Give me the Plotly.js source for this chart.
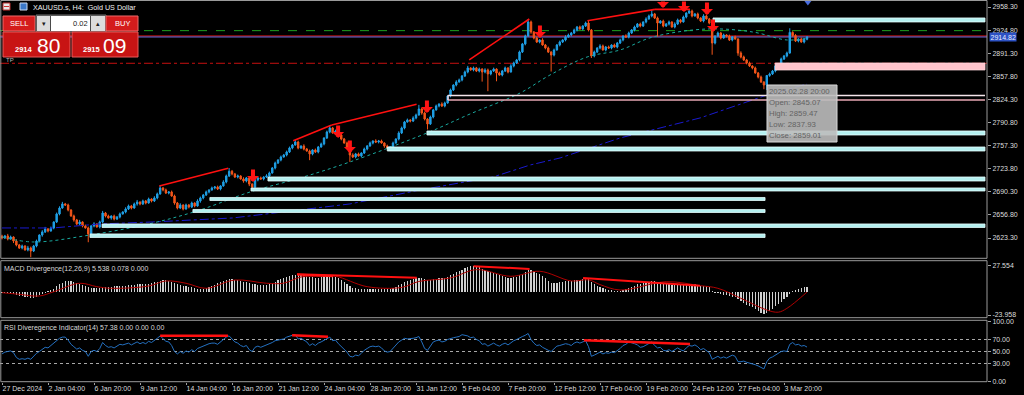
<!DOCTYPE html>
<html><head><meta charset="utf-8">
<script src="https://cdn.plot.ly/plotly-3.0.1.min.js"></script>
<style>html,body{margin:0;padding:0;background:#000;}#c{width:1024px;height:395px;}</style>
</head><body><div id="c"></div>
<script>
// ---------- DATA ----------
const firstOpen = 2626.0;
const closes = [
2623.4,2626.3,2621.9,2624.8,2619.0,2613.2,2608.9,2611.8,2606.0,2608.9,2604.5,2611.8,2619.0,2627.7,2632.1,2636.4,2633.5,2637.9,2646.6,2658.2,
2666.8,2672.7,2671.2,2664.0,2655.2,2649.5,2643.7,2646.6,2640.8,2637.9,2629.2,2640.8,2643.7,2639.3,2646.6,2659.6,2655.2,2652.4,2655.2,2650.9,
2653.8,2658.2,2661.1,2665.4,2669.8,2666.8,2672.7,2675.5,2672.7,2677.0,2674.1,2679.9,2677.0,2681.4,2687.2,2695.9,2693.0,2688.6,2690.1,2684.2,
2674.1,2666.8,2671.2,2665.4,2671.2,2668.3,2674.1,2669.8,2677.0,2681.4,2685.7,2690.1,2693.0,2695.9,2697.3,2694.4,2698.8,2704.6,2713.3,2720.0,
2716.2,2711.8,2713.3,2708.9,2706.0,2710.4,2701.6,2697.3,2707.5,2710.4,2708.9,2711.8,2713.3,2717.6,2724.8,2732.1,2736.5,2740.8,2743.7,2748.1,
2753.9,2758.2,2762.5,2753.9,2756.7,2752.4,2749.5,2745.2,2751.0,2748.1,2755.3,2759.7,2768.4,2777.1,2782.9,2775.6,2778.5,2772.7,2766.9,2761.1,
2755.3,2743.7,2740.8,2745.2,2742.3,2746.6,2752.4,2756.7,2761.1,2764.0,2762.5,2764.0,2761.1,2756.7,2753.9,2755.3,2761.1,2766.9,2775.6,2782.9,
2791.6,2794.5,2793.0,2797.4,2801.7,2810.4,2804.6,2795.9,2788.7,2798.8,2809.0,2814.8,2817.6,2814.8,2819.1,2829.3,2838.0,2845.2,2849.6,2852.5,
2858.2,2864.1,2869.9,2867.0,2869.9,2865.5,2868.4,2864.1,2867.0,2861.2,2865.5,2868.4,2862.6,2859.7,2865.5,2869.9,2864.1,2872.8,2877.1,2881.5,
2893.1,2904.7,2916.2,2936.6,2922.0,2913.3,2907.6,2910.5,2903.2,2898.9,2893.1,2888.7,2896.0,2903.2,2907.6,2910.5,2914.8,2917.7,2920.6,2924.9,
2929.3,2926.4,2930.8,2935.1,2924.9,2887.3,2893.1,2898.9,2901.8,2896.0,2900.3,2898.9,2903.2,2900.3,2906.1,2910.5,2916.2,2914.8,2920.6,2924.9,
2929.3,2933.6,2930.8,2936.6,2940.9,2945.3,2948.2,2942.4,2935.1,2938.0,2930.8,2933.6,2936.6,2929.3,2933.6,2939.5,2936.6,2943.8,2949.6,2952.5,
2945.3,2948.2,2942.4,2938.0,2945.3,2940.9,2935.1,2906.1,2916.2,2920.6,2913.3,2917.7,2916.2,2910.5,2914.8,2911.9,2891.6,2885.8,2881.5,2877.1,
2872.8,2869.9,2862.6,2856.8,2849.6,2845.1,2859.0,2861.2,2865.5,2872.8,2875.7,2882.9,2887.3,2891.6,2921.5,2917.0,2909.0,2912.0,2907.5,2911.5,
2914.8];
const hiWick = [
2,1.5,3,2,1,2.5,1.5,2,1,3,2,1.5,2,1,2.5,3,1.5,2,1,2,
2.5,3,1.5,2,1,2,1.5,3,1,2,2,1.5,2.5,1,2,3,1.5,2,1,2,
1.5,2,1,2.5,2,1.5,2,3,1,2,1.5,2,1,2.5,2,3,1.5,2,1,2,
2,1.5,2.5,1,2,1.5,2,1,2.5,2,1.5,2,1,2,1.5,2,1,2.5,2,4.8,
2,1.5,2,1,2.5,1.5,2,1,2,1.5,2,1,2.5,2,1.5,2,1,2,1.5,2,
2,1.5,3,2,1,2.5,1.5,2,1,2,1.5,2,1,2,4,1.5,2,1,2,1.5,
2,1,2.5,1.5,2,1,2,1.5,2,1,2.5,1.5,2,1,2,1.5,2,1,2.5,2,
1.5,2,1,2.5,2,6,1.5,2,1,2,1.5,2,1,2.5,2,1.5,2,1,2.5,2,
1.5,2,3,1,2,1.5,2,1,2.5,2,1.5,2,1,2,1.5,2,1,2.5,2,1.5,
2,1.5,2,4.3,2,1.5,2,1,2.5,1.5,2,1,2,1.5,2,1,2.5,2,1.5,2,
1.5,2,1,2,3,1.5,2,1,2.5,2,1.5,2,1,2,1.5,2,1,2.5,2,1.5,
2,1.5,2,1,2.5,2,5.8,1.5,2,1,2,1.5,2,1,2.5,2,1.5,2,1,2.4,
2,1.5,2,1,2.5,2,1.5,4,1,2,1.5,2,1,2,1.5,2,1,2.5,2,1.5,
2,1,2,1.5,2,1,0.5,2,1.5,2,1,2,1.5,2,6,1.5,2,1,2,1.5,
1.5];
const loWick = [
2,1.5,2,1,3,2,1.5,2,1,2,9,1.5,2,1,2.5,1.5,2,1,2,1.5,
2,1,1.5,2,1,2.5,2,1.5,2,1,12,1.5,2,1,2,1.5,2,1,2.5,2,
1.5,2,1,2,1.5,2,1,2.5,2,1.5,2,1,2,1.5,2,1,2,1.5,2,1,
2.5,2,1.5,2,1,2,1.5,2,1,2.5,2,1.5,2,1,2,1.5,2,1,2,1.5,
2,1.5,2,1,2.5,2,3,4,1.5,2,1,2,1.5,2,1,2,1.5,2,1,2,
1.5,2,1,2,1.5,2,1,9,2,1.5,2,1,2,1.5,2,1,2,1.5,2,1,
2,10,1.5,2,1,2,1.5,2,1,2,1.5,2,1,2.5,2,1.5,2,1,2,1.5,
2,1,2,1.5,2,1,2.5,2,8,1.5,2,1,2,1.5,2,1,2,1.5,2,1,
2,1.5,2,1,2,1.5,2,14,2,25,2,1.5,12,1,2,1.5,2,1,2,1.5,
2,1.5,2,1,2.5,2,1.5,2,1,2,1.5,24,2,1,2,1.5,2,1,2,1.5,
2,1,2,1.5,2,3,2,1.5,2,1,2,1.5,2,1,2,1.5,2,1,2,1.5,
2,1,2,1.5,2,1,2,1.5,20,1,2,1.5,2,1,2,1.5,2,1,2,1.5,
2,1,2,1.5,2,1,2,17,2,1.5,2,1,2,1.5,2,1,4,2,1.5,2,
1.5,2,1,2,1.5,6,7.1,2,1.5,2,1,2,1.5,2,1,2,1.5,2,1,2,
1.5];
const macdHist = [
-0.5,-0.8,-0.6,-1.0,-1.8,-2.8,-3.6,-4.2,-5.0,-5.4,-5.8,-5.6,-4.6,-3.2,-1.8,-0.4,0.8,2.0,3.8,6.0,
8.2,10.0,11.5,11.8,11.4,10.8,10.0,9.0,8.0,6.8,5.2,4.6,4.4,4.2,4.5,5.4,5.6,5.8,5.9,6.0,
6.1,6.3,6.6,7.0,7.4,7.6,7.8,8.1,8.3,8.5,8.6,9.0,9.5,10.2,11.0,12.0,12.8,12.6,12.0,11.0,
9.6,8.4,7.8,7.0,6.4,5.6,5.0,4.2,3.5,3.0,3.2,4.0,5.2,6.6,8.0,9.2,10.4,11.4,12.6,13.9,
13.6,13.0,12.4,11.8,11.0,10.5,9.4,8.6,8.4,8.0,7.8,7.6,7.8,8.4,9.6,11.0,12.6,13.8,14.8,15.8,
16.8,17.6,18.6,18.4,18.0,17.6,17.0,16.0,15.6,15.2,15.4,15.8,16.6,17.4,17.8,17.2,16.4,15.0,13.2,11.2,
9.0,6.6,4.8,4.2,3.8,3.6,3.6,3.6,3.7,3.8,3.8,3.8,3.6,3.4,3.4,3.8,4.6,5.8,7.4,9.0,
10.8,12.0,13.0,13.8,14.6,15.4,15.0,13.6,12.4,12.8,13.6,14.2,14.6,14.6,15.0,16.0,17.6,19.4,21.0,22.4,
23.8,25.0,26.4,27.4,27.5,27.0,26.0,24.6,23.4,21.8,20.8,20.0,18.8,17.6,16.8,16.2,15.4,15.2,15.6,16.4,
17.8,19.4,21.0,23.2,23.0,22.0,20.6,19.0,16.8,14.4,11.6,9.8,9.6,10.0,10.4,11.0,11.4,11.8,12.0,12.4,
12.8,13.2,14.0,15.0,14.6,10.6,8.4,7.0,5.8,4.2,3.2,2.4,1.8,1.2,1.2,1.6,2.4,3.4,4.6,5.8,
7.0,8.2,8.8,9.6,10.4,11.0,11.6,11.4,10.8,10.4,9.6,9.0,8.6,8.0,7.6,7.6,7.2,7.4,8.0,8.6,
8.4,8.2,7.6,6.8,6.6,6.0,5.0,1.6,-0.4,-1.2,-2.2,-2.8,-3.4,-4.2,-4.6,-5.2,-7.6,-9.6,-11.4,-13.0,
-14.6,-16.0,-17.8,-19.6,-21.4,-23.2,-22.0,-19.8,-17.4,-14.8,-12.2,-9.8,-7.6,-5.4,-2.0,0.8,2.4,3.4,4.4,5.0,
5.5];
const signalIdx = [0,6,13,18,27,33,38,51,57,64,71,81,92,98,104,111,116,127,139,145,156,165,177,187,198,204,208,215,231,243,249,257,266,270,273,280];
const signalVal = [-0.5,-2.2,-4.0,0.5,9.4,5.8,4.1,6.5,11.8,9.4,4.1,12.8,9.4,9.5,16.0,16.8,16.8,5.8,5.0,11.3,15.0,23.7,16.7,22.0,11.8,13.0,8.0,2.3,11.0,6.8,4.1,-6.4,-18.7,-21.0,-17.0,0.1];
const rsiVals = [
46,49,50,51,48,40,37,38,37,39,37,42,47,50,53,57,56,60,64,69,
72,74,74,69,62,58,54,56,52,50,42,50,52,50,55,65,60,57,58,56,
59,62,61,63,64,61,64,66,63,65,63,67,65,68,72,76,72,67,66,60,
50,46,50,47,51,49,53,50,55,57,60,62,63,64,64,62,66,70,74,76,
70,66,64,60,58,60,53,50,57,59,57,59,60,62,65,68,69,70,71,74,
76,77,78,71,72,69,66,60,63,60,64,66,69,72,74,68,69,63,58,53,
49,42,41,44,43,47,52,55,58,59,58,59,56,51,49,50,56,61,66,69,
72,71,71,72,73,75,66,55,52,60,66,68,69,66,67,70,72,73,74,75,
78,77,76,73,74,70,68,62,63,59,62,64,61,59,62,64,61,65,68,70,
73,75,77,80,70,64,60,61,57,54,52,50,55,59,60,61,63,62,60,64,
66,64,66,68,58,42,44,47,49,46,48,47,49,48,51,55,60,62,66,65,
63,61,57,58,61,64,66,60,56,57,52,51,53,50,53,56,53,51,56,60,
59,61,58,53,55,52,48,37,40,42,39,41,39,42,44,42,33,33,34,32,
31,30,28,26,23,21,33,39,41,44,48,50,51,50,62,65,61,62,59,60,
57.4];
const tealMaIdx = [0,10.8,30.6,52.5,68.9,86.3,103.7,121,147.8,162.8,180.2,190.6,203.5,215,226.4,245.2,261.2,273,280.3];
const tealMaVal = [2624.8,2617.6,2627.7,2645.1,2664.0,2690.1,2710.4,2733.6,2775.6,2803.2,2833.6,2859.7,2885.8,2896.0,2914.8,2926.4,2922.0,2910.5,2913.3];
const blueMaIdx = [0,17.7,34.1,52.5,80.3,103.7,121,145.4,170.8,183.7,194.1,215,242.8,266.1,280];
const blueMaVal = [2637.9,2637.9,2643.7,2646.6,2652.4,2664.0,2672.7,2693.0,2711.8,2729.2,2739.4,2768.4,2797.4,2830.7,2846.6];
const xTickIdx = [0,16,32,48,64,80,96,112,128,144,160,176,192,208,224,240,256,272];
const xTickText = ["27 Dec 2024","2 Jan 04:00","6 Jan 20:00","9 Jan 12:00","14 Jan 04:00","16 Jan 20:00","21 Jan 12:00","24 Jan 04:00","28 Jan 20:00","31 Jan 12:00","5 Feb 04:00","7 Feb 20:00","12 Feb 12:00","17 Feb 04:00","19 Feb 20:00","24 Feb 12:00","27 Feb 04:00","3 Mar 20:00"];
const priceTicks = [2958.30,2924.80,2891.30,2857.80,2824.30,2790.80,2757.30,2723.80,2690.30,2656.80,2623.30];
const macdTicks = [27.554,-23.958];
const rsiTicks = [100,70,50,30,0];
const rsiLevels = [70,50,30];
const zoneStart = [247.3,268.9,155.1,147.8,134,92.5,86.6,72.3,66.4,34.8,30.6];
const zoneEnd   = [341.9,341.9,341.9,341.9,341.9,341.9,341.9,265.4,265.4,341.9,265.4];
const zoneTop   = [2942.4,2877.1,2830.0,2778.5,2755.3,2711.8,2695.9,2682.1,2664.7,2643.7,2629.2];
const zoneBot   = [2936.6,2867.0,2823.5,2772.7,2749.5,2706.0,2691.5,2677.7,2660.3,2638.6,2624.1];
const zoneKind  = ['cyan','pink','pinkframe','cyan','cyan','cyan','cyan','cyan','cyan','cyan','cyan'];
const trendX0 = [54.7,101.3,114.7,162.5,203.6,227.1];
const trendP0 = [2698.8,2764.4,2787.2,2881.5,2938.4,2954.9];
const trendX1 = [78.7,114.7,144.2,183.4,227.1,239.3];
const trendP1 = [2724.4,2787.2,2817.2,2940.9,2954.9,2954.9];
const arrowIdx = [87.3,116.9,121,147.8,187.1,229.9,237.2,245.2,247.3];
const arrowPrice = [2704.6,2768.4,2746.6,2804.6,2913.3,2956.8,2951.0,2946.7,2922.0];
const macdTrendX0 = [102.6,102.6,164,202.1];
const macdTrendV0 = [18.8,18.6,27.3,14.9];
const macdTrendX1 = [144.3,115.1,183.5,242.8];
const macdTrendV1 = [15.2,16.7,24.5,6.8];
const rsiTrendX0 = [55,100.9,202.4];
const rsiTrendV0 = [76.3,77,68.7];
const rsiTrendX1 = [78.6,113.4,239.3];
const rsiTrendV1 = [76.3,74.7,62.5];
const levelPrice = [2924.0,2916.3,2914.82,2876.7];
const lastPrice = 2914.82;
const tipLines = ["2025.02.28 20:00","Open: 2845.07","High: 2859.47","Low: 2837.93","Close: 2859.01"];
const bidText = ["2914","80"], askText = ["2915","09"], lotText = "0.02";

// ---------- BUILD ----------
const FONT = 'Liberation Sans, Arial, sans-serif';
const idx = closes.map((_, i) => i);
const opens = closes.map((c, i) => i === 0 ? firstOpen : closes[i - 1]);
const highs = closes.map((c, i) => Math.max(opens[i], c) + hiWick[i]);
const lows = closes.map((c, i) => Math.min(opens[i], c) - loWick[i]);

const PW = 987, PH = 382;
const px = v => v / PW;
const py = v => 1 - v / PH;

const UP = '#1fa0e6', DN = '#f4561a';
const data = [
  {type:'candlestick', x:idx, open:opens, high:highs, low:lows, close:closes,
   increasing:{line:{color:UP,width:1},fillcolor:UP}, decreasing:{line:{color:DN,width:1},fillcolor:DN},
   whiskerwidth:0, hoverinfo:'skip', xaxis:'x', yaxis:'y'},
  {type:'scatter', mode:'lines', x:blueMaIdx, y:blueMaVal, line:{color:'#1a1ad0',width:1,dash:'dashdot'}, xaxis:'x', yaxis:'y', hoverinfo:'skip'},
  {type:'scatter', mode:'lines', x:tealMaIdx, y:tealMaVal, line:{color:'#1aa89e',width:1,dash:'dot',shape:'spline'}, xaxis:'x', yaxis:'y', hoverinfo:'skip'},
  {type:'scatter', mode:'markers', x:[280.3], y:[2965.5], marker:{symbol:'triangle-down',size:7,color:'#4a6ee0'}, xaxis:'x', yaxis:'y', hoverinfo:'skip'},
  {type:'bar', x:idx, y:macdHist, width:0.42, marker:{color:'#d0d0d0',line:{width:0}}, xaxis:'x', yaxis:'y2', hoverinfo:'skip'},
  {type:'scatter', mode:'lines', x:signalIdx, y:signalVal, line:{color:'#b00000',width:1,shape:'spline'}, xaxis:'x', yaxis:'y2', hoverinfo:'skip'},
  {type:'scatter', mode:'lines', x:idx, y:rsiVals, line:{color:'#2470c0',width:1}, xaxis:'x', yaxis:'y3', hoverinfo:'skip'}
];

const shapes = [];
const annotations = [];
const levelStyle = [{color:'#1ea01e',dash:'dash'},{color:'#e01414',dash:'solid'},{color:'#7070e0',dash:'solid'},{color:'#c81010',dash:'dashdot'}];
levelPrice.forEach((p, i) => shapes.push({type:'line', xref:'paper', yref:'y', x0:0, x1:1, y0:p, y1:p, line:Object.assign({width:1}, levelStyle[i]), layer:'below'}));
rsiLevels.forEach(v => shapes.push({type:'line', xref:'paper', yref:'y3', x0:0, x1:1, y0:v, y1:v, line:{color:'#a8a8a8',width:1,dash:'3px,3px'}, layer:'below'}));
zoneStart.forEach((s, i) => {
  const k = zoneKind[i];
  if (k === 'pinkframe') {
    shapes.push({type:'line', xref:'x', yref:'y', x0:s, x1:zoneEnd[i], y0:zoneTop[i], y1:zoneTop[i], line:{color:'#f4e4ea',width:1.5}, layer:'above'});
    shapes.push({type:'line', xref:'x', yref:'y', x0:s, x1:zoneEnd[i], y0:zoneBot[i], y1:zoneBot[i], line:{color:'#e8a8b4',width:1.5}, layer:'above'});
    shapes.push({type:'line', xref:'x', yref:'y', x0:s, x1:s, y0:zoneBot[i], y1:zoneTop[i], line:{color:'#f0d0d8',width:1.5}, layer:'above'});
  } else {
    const fill = k === 'pink' ? '#ffc4cc' : '#b4f0f0';
    const edge = k === 'pink' ? '#ffd8de' : '#e6ffff';
    shapes.push({type:'rect', xref:'x', yref:'y', x0:s, x1:zoneEnd[i], y0:zoneBot[i], y1:zoneTop[i], fillcolor:fill, line:{color:edge,width:0.8}, layer:'above'});
  }
});
trendX0.forEach((x, i) => shapes.push({type:'line', xref:'x', yref:'y', x0:x, x1:trendX1[i], y0:trendP0[i], y1:trendP1[i], line:{color:'#ff1010',width:1.6}, layer:'above'}));
macdTrendX0.forEach((x, i) => shapes.push({type:'line', xref:'x', yref:'y2', x0:x, x1:macdTrendX1[i], y0:macdTrendV0[i], y1:macdTrendV1[i], line:{color:'#ff1010',width:2}, layer:'above'}));
rsiTrendX0.forEach((x, i) => shapes.push({type:'line', xref:'x', yref:'y3', x0:x, x1:rsiTrendX1[i], y0:rsiTrendV0[i], y1:rsiTrendV1[i], line:{color:'#ff1010',width:2.5}, layer:'above'}));
arrowIdx.forEach((x, i) => annotations.push({x:x, y:arrowPrice[i], xref:'x', yref:'y', text:'', showarrow:true, arrowhead:1, arrowsize:0.5, arrowwidth:4, arrowcolor:'#ff1414', ax:0, ay:-14, standoff:0}));

[[0.5,258.3],[260.7,317.7],[320.3,381.7]].forEach(([a,b]) => shapes.push({type:'rect', xref:'paper', yref:'paper', x0:px(0.8), x1:1, y0:py(b), y1:py(a), line:{color:'#9a9a9a',width:1}, fillcolor:'rgba(0,0,0,0)', layer:'above'}));

function rectPx(x0,y0,x1,y1,fill,line){ shapes.push({type:'rect',xref:'paper',yref:'paper',x0:px(x0),x1:px(x1),y0:py(y1),y1:py(y0),fillcolor:fill,line:{color:line||fill,width:line?1:0},layer:'above'}); }
function textPx(x,y,t,size,color,anchor,family){ annotations.push({xref:'paper',yref:'paper',x:px(x),y:py(y),text:t,showarrow:false,xanchor:anchor||'left',yanchor:'middle',borderpad:0,font:{size:size,color:color,family:family||FONT}}); }

rectPx(767,85,837,142,'rgba(188,188,188,0.9)','#d8d8d8');
tipLines.forEach((t, i) => textPx(768, 91 + i * 11.2, t, 7.8, '#626262'));

rectPx(3,3,10,10,'#e8e8e8','#c03030');
rectPx(4,6,9,7,'#d03030');
rectPx(20,3,27,10,'#3a78c8','#c8d8f0');
textPx(32,7.5,'XAUUSD.s, H4:  Gold US Dollar',7.2,'#f0f0f0');
rectPx(3,16,35,31,'#d41c1c','#ee6a6a');
textPx(19,23.5,'SELL',7.5,'#ffffff','center');
rectPx(36,15,106,32,'#4a4a4a','#707070');
rectPx(37,16,50,31,'#dcdcdc');
rectPx(51,16,90,31,'#ffffff');
rectPx(91,16,105,31,'#dcdcdc');
textPx(43.5,23.5,'▾',7,'#202020','center','DejaVu Sans');
textPx(98,23.5,'▴',7,'#202020','center','DejaVu Sans');
textPx(89,23.5,lotText,7.5,'#202020','right');
rectPx(106,16,138,31,'#d41c1c','#ee6a6a');
textPx(122,23.5,'BUY',7.5,'#ffffff','center');
rectPx(3,32,70,57,'#c81414','#e85a5a');
rectPx(72,32,138,57,'#c81414','#e85a5a');
textPx(14,50,'<b>'+bidText[0]+'</b>',7.5,'#ffffff','left');
textPx(36,45.5,bidText[1],21,'#ffffff','left');
textPx(82,50,'<b>'+askText[0]+'</b>',7.5,'#ffffff','left');
textPx(102,45.5,askText[1],21,'#ffffff','left');
textPx(5,59.5,'TP',6,'#b8b8b8');
textPx(3,268.5,'MACD Divergence(12,26,9) 5.538 0.078 0.000',7,'#d8d8d8');
textPx(3,327.5,'RSI Diveregence Indicator(14) 57.38 0.00 0.00 0.00',7,'#d8d8d8');
annotations.push({xref:'paper', yref:'y', x:px(988.5), y:lastPrice, text:lastPrice.toFixed(2), showarrow:false, xanchor:'left', yanchor:'middle', bgcolor:'#2d52c4', borderpad:0.5, font:{size:7,color:'#e8ecff',family:FONT}});

const axBase = {showgrid:false, zeroline:false, fixedrange:true, showline:false, ticks:'outside', ticklen:3, tickcolor:'#a0a0a0', tickfont:{size:7, color:'#dcdcdc', family:FONT}};
const layout = {
  width:1024, height:395, margin:{l:0, r:37, t:0, b:13, pad:0},
  paper_bgcolor:'#000', plot_bgcolor:'rgba(0,0,0,0)', showlegend:false,
  font:{family:FONT, size:7, color:'#dcdcdc'},
  boxgap:0.3, bargap:0,
  xaxis:Object.assign({}, axBase, {range:[-0.7,342.6], anchor:'y3', tickvals:xTickIdx, ticktext:xTickText, tickangle:0, ticklen:2, ticklabelposition:'outside right', automargin:false, rangeslider:{visible:false}}),
  yaxis:Object.assign({}, axBase, {domain:[py(258.3),1], range:[2593.9,2968.45], side:'right', anchor:'x', tickvals:priceTicks, ticktext:priceTicks.map(v=>v.toFixed(2))}),
  yaxis2:Object.assign({}, axBase, {domain:[py(317.7),py(260.7)], range:[-26.8,33.1], side:'right', anchor:'x', tickvals:macdTicks, ticktext:macdTicks.map(v=>v.toFixed(3))}),
  yaxis3:Object.assign({}, axBase, {domain:[0,py(320.3)], range:[-0.8,102], side:'right', anchor:'x', tickvals:rsiTicks, ticktext:rsiTicks.map(v=>v.toFixed(2))}),
  shapes:shapes, annotations:annotations
};
Plotly.newPlot('c', data, layout, {staticPlot:true, displayModeBar:false});
</script></body></html>
